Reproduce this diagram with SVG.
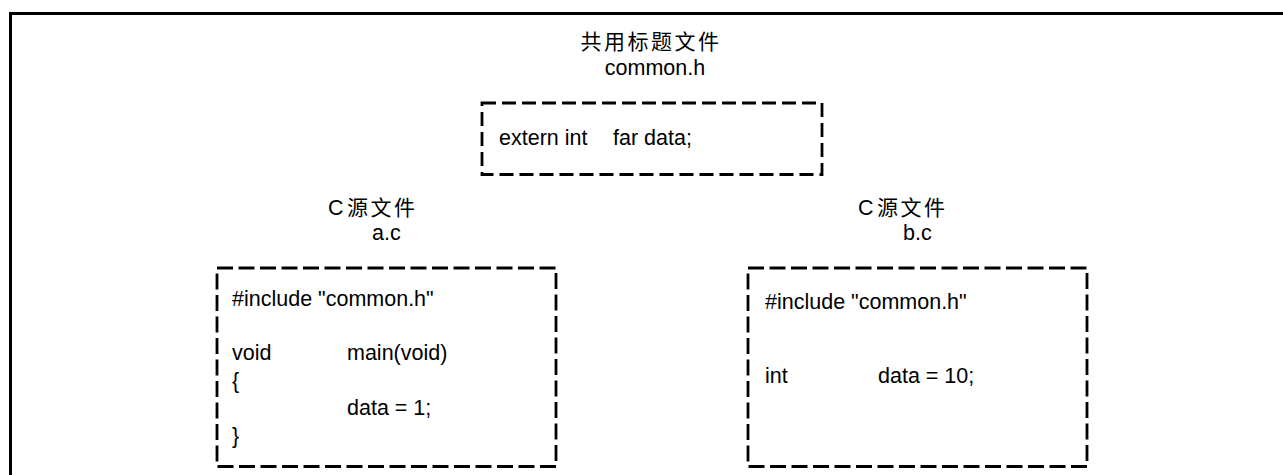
<svg xmlns="http://www.w3.org/2000/svg" width="1283" height="475" viewBox="0 0 1283 475">
<style>
.t{font-family:"Liberation Sans","Noto Sans CJK SC",Arial,sans-serif;font-size:21.5px;fill:#000}
.cjk{font-family:"Noto Sans CJK SC","Liberation Sans",sans-serif;font-size:21px;letter-spacing:2.5px}
.box{fill:none;stroke:#000;stroke-width:2.8}
.d1{stroke-dasharray:14 6}
.d2{stroke-dasharray:16 5.5}
</style>
<rect x="0" y="0" width="1283" height="475" fill="#fff"/>
<path d="M10.5,475 V13.5 H1283" fill="none" stroke="#000" stroke-width="3"/>
<g id="common_h">
<text class="t cjk" x="651" y="49" text-anchor="middle">共用标题文件</text>
<text class="t" x="655" y="75" text-anchor="middle">common.h</text>
<rect class="box d1" x="482" y="103" width="340" height="71.5"/>
<text class="t" x="499" y="145">extern int</text>
<text class="t" x="613" y="145">far data;</text>
</g>
<g id="a_c">
<text class="t" x="328" y="215">C</text>
<text class="t cjk" x="347" y="215">源文件</text>
<text class="t" x="372" y="240">a.c</text>
<rect class="box d2" x="217" y="268" width="339" height="198.5"/>
<text class="t" x="232" y="305.5">#include "common.h"</text>
<text class="t" x="232" y="360">void</text>
<text class="t" x="347" y="360">main(void)</text>
<text class="t" x="232" y="387.5">{</text>
<text class="t" x="347" y="415">data = 1;</text>
<text class="t" x="232" y="442.5">}</text>
</g>
<g id="b_c">
<text class="t" x="858" y="215">C</text>
<text class="t cjk" x="877" y="215">源文件</text>
<text class="t" x="903" y="240">b.c</text>
<rect class="box d2" x="748" y="268" width="339" height="198.5"/>
<text class="t" x="765" y="309">#include "common.h"</text>
<text class="t" x="765" y="383">int</text>
<text class="t" x="878" y="383">data = 10;</text>
</g>
<g id="connectors"></g>
</svg>
